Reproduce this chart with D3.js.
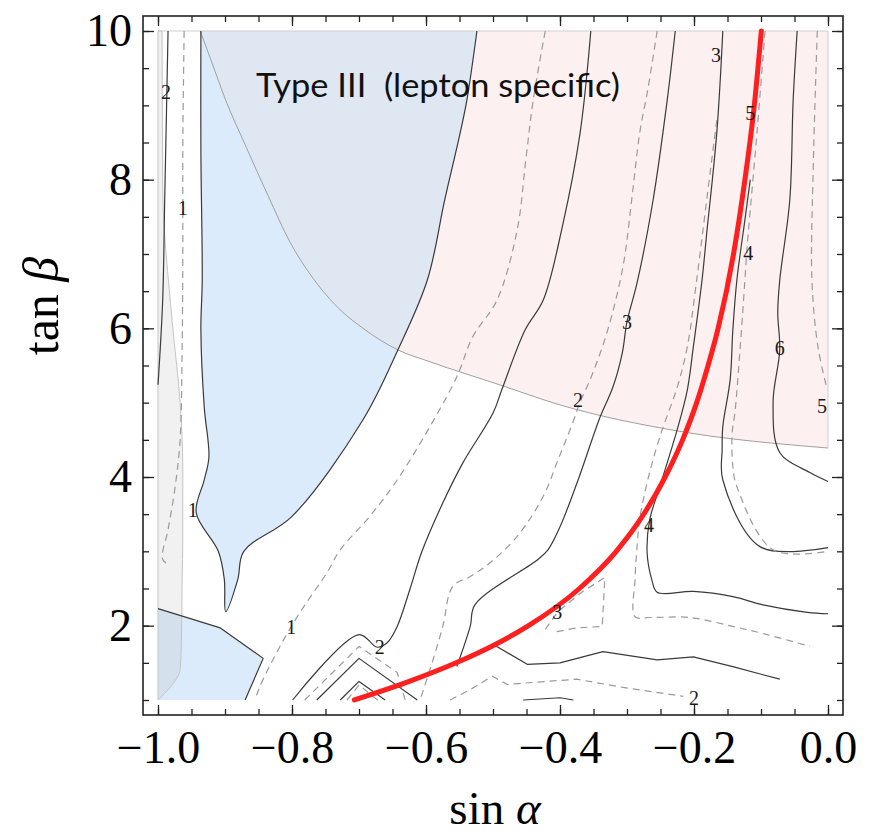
<!DOCTYPE html>
<html>
<head>
<meta charset="utf-8">
<script src="https://cdn.jsdelivr.net/npm/d3@7"></script>
<style>
  body { margin: 0; background: #fff; }
</style>
</head>
<body>
<script>
// tan(beta) vs sin(alpha) contours, Type III (lepton specific)

var width = 869,
    height = 835;

// outer frame, data area sits 15px inside it (Mathematica style padding)
var frame = {left: 143, top: 16, right: 843, bottom: 715},
    inset = 15;

var xTicks = [-1.0, -0.8, -0.6, -0.4, -0.2, 0.0],
    yTicks = [2, 4, 6, 8, 10];

// ---- shaded regions, [sin a, tan b] ----
var blueMain = [[-0.936,10],[-0.936,8.40],[-0.934,6.65],[-0.936,5.98],[-0.931,4.94],[-0.924,4.27],
  [-0.931,3.96],[-0.943,3.52],[-0.910,3.00],[-0.901,2.62],[-0.899,2.19],[-0.881,2.62],[-0.872,3.00],
  [-0.800,3.47],[-0.694,4.77],[-0.642,5.71],[-0.598,6.65],[-0.572,7.73],[-0.549,8.63],[-0.539,9.07],[-0.524,10]];
var blueCorner = [[-1,2.23],[-0.907,1.97],[-0.843,1.56],[-0.870,1.0]];
var grayStrip = [[-0.994,10],[-0.993,7.9],[-0.979,6.11],[-0.967,5.0],[-0.963,4.1],[-0.963,3.16],
  [-0.964,2.62],[-0.965,1.81],[-0.967,1.41],[-0.981,1.18],[-1,1.0]];
var excludedArc = [[-0.937,10],[-0.921,9.61],[-0.899,9.07],[-0.870,8.47],[-0.836,7.79],[-0.803,7.16],
  [-0.770,6.69],[-0.736,6.32],[-0.691,5.98],[-0.642,5.71],[-0.594,5.55],[-0.490,5.24],[-0.4,4.97],
  [-0.225,4.62],[0,4.39]];

// ---- solid contours ----
var leftTwo = [[-0.985,10],[-0.987,9.07],[-0.990,7.73],[-0.993,6.38],[-1,5.24]];
var contourB = [[-0.354,10],[-0.370,8.63],[-0.396,7.39],[-0.425,6.38],[-0.452,5.98],[-0.487,5.17],
  [-0.500,4.86],[-0.545,4.19],[-0.575,3.65],[-0.606,3.0],[-0.624,2.49],[-0.643,1.99],[-0.658,1.77],
  [-0.673,1.71],[-0.700,1.88],[-0.799,1.0]];
var chevronMid = [[-0.763,1.0],[-0.700,1.56],[-0.613,1.0]];
var chevronInner = [[-0.728,1.0],[-0.700,1.25],[-0.661,1.0]];
var contourD = [[-0.228,10],[-0.240,9.07],[-0.261,7.73],[-0.285,6.61],[-0.300,6.09],[-0.307,5.67],
  [-0.321,5.21],[-0.340,4.81],[-0.373,3.96],[-0.400,3.33],[-0.418,3.02],[-0.433,2.89],[-0.527,2.28],
  [-0.534,1.99],[-0.554,1.45]];
var contourE = [[-0.5,1.75],[-0.449,1.48],[-0.4,1.50],[-0.336,1.65],[-0.255,1.54],[-0.201,1.58],
  [-0.142,1.45],[-0.097,1.34],[-0.072,1.28]];
var bottomStub = [[-0.455,1.0],[-0.4,1.03],[-0.38,1.0]];
var contourI = [[-0.157,10],[-0.166,8.63],[-0.181,7.28],[-0.188,6.65],[-0.201,5.75],[-0.210,5.17],
  [-0.225,4.64],[-0.251,3.87],[-0.266,3.43],[-0.270,2.98],[-0.263,2.62],[-0.255,2.45],[-0.201,2.46],
  [-0.142,2.39],[-0.097,2.28],[-0.031,2.18],[0,2.16]];
var contourM = [[-0.116,8.0],[-0.124,7.46],[-0.136,6.65],[-0.142,5.98],[-0.146,5.31],[-0.157,4.68],
  [-0.158,4.37],[-0.157,3.96],[-0.101,3.06],[0,3.05]];
var contourJ = [[-0.046,10],[-0.052,9.07],[-0.057,7.73],[-0.072,6.65],[-0.075,6.21],[-0.072,5.71],
  [-0.082,5.0],[-0.072,4.33],[-0.027,4.06],[0,3.94]];

// ---- dashed contours ----
var leftOne = [[-0.961,10],[-0.963,8.40],[-0.963,7.05],[-0.964,5.71],[-0.967,4.50],[-0.975,3.83],
  [-0.985,3.29],[-0.993,2.89],[-0.981,2.81]];
var contourA = [[-0.422,10],[-0.440,9.07],[-0.451,8.27],[-0.464,7.32],[-0.494,6.38],[-0.530,5.89],
  [-0.554,5.35],[-0.594,4.68],[-0.643,3.96],[-0.684,3.47],[-0.728,3.02],[-0.748,2.71],[-0.788,2.18],
  [-0.818,1.72],[-0.848,1.18],[-0.855,1.0]];
var contourC = [[-0.255,10],[-0.269,9.21],[-0.281,8.63],[-0.293,7.73],[-0.306,6.83],[-0.330,5.94],
  [-0.355,5.31],[-0.370,5.01],[-0.381,4.73],[-0.403,4.23],[-0.425,3.74],[-0.464,3.20],[-0.504,2.85],
  [-0.534,2.66],[-0.560,2.53],[-0.575,1.99],[-0.594,1.41],[-0.609,1.0]];
var chevronDashOuter = [[-0.781,1.0],[-0.700,1.72],[-0.643,1.37],[-0.631,1.0]];
var chevronDashInner = [[-0.718,1.0],[-0.700,1.2],[-0.672,1.0]];
var contourF = [[-0.564,1.0],[-0.534,1.14],[-0.501,1.32],[-0.479,1.21],[-0.375,1.28],[-0.306,1.17],[-0.216,1.05]];
var contourG = [[-0.422,1.95],[-0.403,2.19],[-0.366,2.46],[-0.333,2.65],[-0.337,1.99],[-0.375,1.97],[-0.410,1.91]];
var contourL = [[-0.166,8.80],[-0.181,7.73],[-0.196,6.65],[-0.210,5.75],[-0.225,5.21],[-0.251,4.54],
  [-0.269,3.96],[-0.281,3.43],[-0.285,3.06],[-0.288,2.62],[-0.288,2.12],[-0.266,2.11],[-0.206,2.11],
  [-0.142,1.99],[-0.091,1.88],[-0.027,1.72]];
var contourH = [[-0.094,10],[-0.106,8.63],[-0.121,7.06],[-0.124,6.65],[-0.131,5.75],[-0.139,4.86],
  [-0.143,4.60],[-0.142,4.14],[-0.136,3.87],[-0.082,3.02],[0,3.0]];
var contourK = [[-0.016,10],[-0.022,8.17],[-0.024,6.65],[-0.015,5.75],[-0.001,5.17]];

// contour labels [sin a, tan b, text]
var contourLabels = [[-0.988,9.18,"2"],[-0.963,7.62,"1"],[-0.948,3.56,"1"],[-0.801,1.98,"1"],
  [-0.669,1.71,"2"],[-0.373,5.03,"2"],[-0.300,6.09,"3"],[-0.167,9.68,"3"],[-0.116,8.90,"5"],
  [-0.119,7.02,"4"],[-0.072,5.73,"6"],[-0.009,4.96,"5"],[-0.267,3.35,"4"],[-0.404,2.19,"3"],[-0.2,1.03,"2"]];

// alignment curve (red)
var alignCurve = [[-0.707,1.0],[-0.625,1.25],[-0.555,1.5],[-0.496,1.75],[-0.447,2.0],[-0.371,2.5],
  [-0.316,3.0],[-0.275,3.5],[-0.243,4.0],[-0.217,4.5],[-0.196,5.0],[-0.179,5.5],[-0.164,6.0],
  [-0.141,7.0],[-0.124,8.0],[-0.110,9.0],[-0.0995,10.0]];

// smooth (upper parts of the contours) vs angular (bottom cusps)
var solidSmooth = [leftTwo, contourB, contourD, contourI, contourM, contourJ],
    solidSharp = [blueCorner, chevronMid, chevronInner, contourE, bottomStub],
    dashedSmooth = [leftOne, contourA, contourC, contourL, contourH, contourK],
    dashedSharp = [chevronDashOuter, chevronDashInner, contourF, contourG];

var svg = d3.select("body").append("svg")
    .attr("width", width)
    .attr("height", height)
    .style("font-family", "'Liberation Serif', 'Times New Roman', serif");

var x = d3.scaleLinear().domain([-1, 0]).range([frame.left + inset, frame.right - inset]),
    y = d3.scaleLinear().domain([1, 10]).range([frame.bottom - inset, frame.top + inset]);

function px(d) { return x(d[0]); }
function py(d) { return y(d[1]); }

var line = d3.line().x(px).y(py),
    smooth = d3.line().x(px).y(py).curve(d3.curveMonotoneX),
    smoothY = d3.line().x(px).y(py).curve(d3.curveMonotoneY),
    rom = d3.line().x(px).y(py).curve(d3.curveCatmullRom.alpha(0.5));

// pink excluded region above the arc
var pinkPath = smooth(excludedArc) + "L" + x(0) + "," + y(10) + "Z";
svg.append("path").attr("d", pinkPath).attr("fill", "#fdf0f0");

svg.append("clipPath").attr("id", "pinkClip")
  .append("path").attr("d", pinkPath);

var bluePath = rom(blueMain) + "Z";
svg.append("path").attr("d", bluePath).attr("fill", "#dbebfb");
svg.append("path").attr("d", line(blueCorner.concat([[-1, 1]])) + "Z").attr("fill", "#dbebfb");
// blue seen through the pink overlay
svg.append("path").attr("d", bluePath).attr("fill", "#dee7f2").attr("clip-path", "url(#pinkClip)");

// light gray strip at sin a = -1
svg.append("path")
    .attr("d", smoothY([[-1, 10]].concat(grayStrip)) + "Z")
    .attr("fill", "rgba(185,185,185,0.2)")
    .attr("stroke", "#c4c4c4")
    .attr("stroke-width", 1);

// region edges
svg.append("path").attr("d", smooth(excludedArc))
    .attr("fill", "none").attr("stroke", "#a0a0a0").attr("stroke-width", 1);
svg.append("path").attr("d", line([[0, 4.39], [0, 10], [-1, 10]]))
    .attr("fill", "none").attr("stroke", "#cfcfcf").attr("stroke-width", 1);

// contours
function contours(data, gen, dashed) {
  svg.append("g").selectAll("path").data(data).join("path")
      .attr("d", gen)
      .attr("fill", "none")
      .attr("stroke", dashed ? "#9a9a9a" : "#3a3a3a")
      .attr("stroke-width", 1.2)
      .attr("stroke-linejoin", "round")
      .attr("stroke-dasharray", dashed ? "7,5" : null);
}
contours([blueMain], rom, false);
contours(solidSmooth, rom, false);
contours(solidSharp, line, false);
contours(dashedSmooth, rom, true);
contours(dashedSharp, line, true);

svg.append("path").attr("d", smooth(alignCurve))
    .attr("fill", "none")
    .attr("stroke", "#ff1f1f")
    .attr("stroke-width", 5)
    .attr("stroke-linecap", "round");

svg.append("g").selectAll("text").data(contourLabels).join("text")
    .attr("x", px)
    .attr("y", py)
    .attr("dy", "0.35em")
    .attr("text-anchor", "middle")
    .attr("font-size", 20)
    .attr("fill", "#1a1a1a")
    .text(function(d) { return d[2]; });

// frame
svg.append("rect")
    .attr("x", frame.left).attr("y", frame.top)
    .attr("width", frame.right - frame.left).attr("height", frame.bottom - frame.top)
    .attr("fill", "none").attr("stroke", "#222").attr("stroke-width", 1.6);

// axes: ticks point inward, majors longer
function ticks(axis, values, size, tx, ty, fmt, pad) {
  var g = svg.append("g")
      .attr("transform", "translate(" + tx + "," + ty + ")")
      .call(axis.tickValues(values).tickSize(-size).tickPadding(pad || 3).tickFormat(fmt || ""));
  g.select(".domain").remove();
  g.selectAll(".tick line").attr("stroke", "#222").attr("stroke-width", 1.3);
  g.selectAll(".tick text")
      .attr("font-family", "'Liberation Serif', 'Times New Roman', serif")
      .attr("font-size", 46)
      .attr("fill", "#000");
  return g;
}

var fmt = d3.format(".1f");
ticks(d3.axisBottom(x), x.ticks(20), 6, 0, frame.bottom);
ticks(d3.axisTop(x), x.ticks(20), 6, 0, frame.top);
ticks(d3.axisTop(x), xTicks, 10, 0, frame.top);
ticks(d3.axisLeft(y), y.ticks(18), 6, frame.left, 0);
ticks(d3.axisRight(y), y.ticks(18), 6, frame.right, 0);
ticks(d3.axisRight(y), yTicks, 11, frame.right, 0);
ticks(d3.axisBottom(x), xTicks, 10, 0, frame.bottom, fmt, 15);
ticks(d3.axisLeft(y), yTicks, 11, frame.left, 0, d3.format("d"), 11);

// axis titles
var xt = svg.append("text")
    .attr("x", (frame.left + frame.right) / 2 + 2)
    .attr("y", 824)
    .attr("text-anchor", "middle")
    .attr("font-size", 47);
xt.append("tspan").text("sin ");
xt.append("tspan").attr("font-style", "italic").text("α");

var yt = svg.append("text")
    .attr("transform", "translate(58,306) rotate(-90)")
    .attr("text-anchor", "middle")
    .attr("font-size", 50);
yt.append("tspan").text("tan ");
yt.append("tspan").attr("font-style", "italic").text("β");

svg.append("text")
    .attr("x", 256)
    .attr("y", 97)
    .attr("font-family", "Lato, 'Open Sans', sans-serif")
    .attr("font-size", 32)
    .attr("fill", "#111")
    .style("white-space", "pre")
    .attr("textLength", 364)
    .attr("lengthAdjust", "spacingAndGlyphs")
    .text("Type III  (lepton specific)");
</script>
</body>
</html>
